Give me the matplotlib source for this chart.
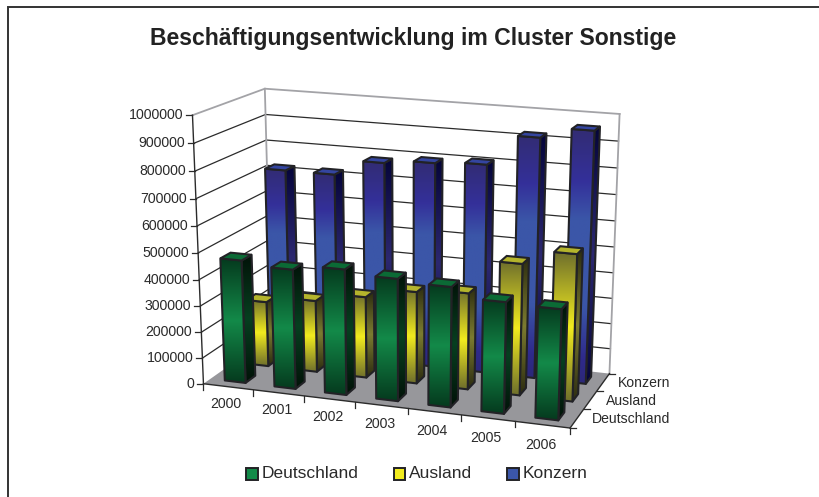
import matplotlib
matplotlib.use("Agg")
import matplotlib.pyplot as plt
from matplotlib.colors import LinearSegmentedColormap
from matplotlib.patches import Polygon, Rectangle
import numpy as np

plt.rcParams["font.family"] = ["Liberation Sans", "DejaVu Sans"]

years = ["2000", "2001", "2002", "2003", "2004", "2005", "2006"]
series = ["Deutschland", "Ausland", "Konzern"]
deutschland = [470000, 455000, 475000, 460000, 450000, 415000, 410000]
ausland = [255000, 280000, 315000, 355000, 370000, 500000, 555000]
konzern = [720000, 720000, 780000, 795000, 805000, 920000, 960000]
value_ticks = [0, 100000, 200000, 300000, 400000, 500000, 600000, 700000, 800000, 900000, 1000000]

front_colors = [
    ["#053a1e", "#138a49", "#053a1e"],
    ["#6f6f2c", "#f2ec1e", "#6f6f2c"],
    [(0, "#322c74"), (0.2, "#34309a"), (0.35, "#3b56a8"), (0.7, "#3b56a8"), (0.9, "#2f2a8c"), (1, "#2c2878")],
]
side_colors = [
    ["#021208", "#073f20", "#021208"],
    ["#2c2c10", "#7c7c30", "#2c2c10"],
    ["#05053a", "#2c2870", "#05053a"],
]
top_colors = ["#0b6a35", "#b4b42c", "#3445a0"]
legend_colors = ["#138a49", "#f2ec1e", "#3b56a8"]

# corners of the 3d box in picture pixels, (category, depth, value) -> (px, py)
box_world = np.array([
    [0, 0, 0], [7, 0, 0], [0, 3, 0], [7, 3, 0],
    [0, 0, 1], [7, 0, 1], [0, 3, 1], [7, 3, 1],
], dtype=float)
box_pixels = np.array([
    [202.5, 380], [570.7, 429.3], [272, 340], [609.3, 371.7],
    [192, 113], [580, 150], [265.7, 90], [618.3, 110],
])


def fit_camera(world, pix):
    rows, rhs = [], []
    for (x, y, z), (u, v) in zip(world, pix):
        rows.append([x, y, z, 1, 0, 0, 0, 0, -u * x, -u * y, -u * z])
        rhs.append(u)
        rows.append([0, 0, 0, 0, x, y, z, 1, -v * x, -v * y, -v * z])
        rhs.append(v)
    sol = np.linalg.lstsq(np.array(rows), np.array(rhs), rcond=None)[0]
    return np.append(sol, 1.0).reshape(3, 4)


camera = fit_camera(box_world, box_pixels)


def proj(x, d, val):
    p = camera @ np.array([x, d, val / 1e6, 1.0])
    return p[0] / p[2], p[1] / p[2]


def gradient_face(ax, pts, colors, z):
    pts = np.array(pts)
    cmap = LinearSegmentedColormap.from_list("face", colors)
    patch = Polygon(pts, closed=True, fc="none", ec="none", transform=ax.transData)
    ax.add_patch(patch)
    grad = np.linspace(0, 1, 128).reshape(-1, 1)
    im = ax.imshow(grad, cmap=cmap, aspect="auto", interpolation="bilinear",
                   extent=[pts[:, 0].min(), pts[:, 0].max(), pts[:, 1].max(), pts[:, 1].min()],
                   zorder=z)
    im.set_clip_path(patch)
    ax.add_patch(Polygon(pts, closed=True, fc="none", ec="#222226", lw=1.5, joinstyle="round",
                         zorder=z + 0.01))


def draw_bar(ax, i, depth, val, z):
    x0, x1 = i + 0.29, i + 0.71
    d0, d1 = depth + 0.29, depth + 0.71
    gradient_face(ax, [proj(x1, d0, 0), proj(x1, d1, 0), proj(x1, d1, val), proj(x1, d0, val)],
                  side_colors[depth], z)
    gradient_face(ax, [proj(x0, d0, 0), proj(x1, d0, 0), proj(x1, d0, val), proj(x0, d0, val)],
                  front_colors[depth], z + 0.1)
    ax.add_patch(Polygon([proj(x0, d0, val), proj(x1, d0, val), proj(x1, d1, val), proj(x0, d1, val)],
                         closed=True, fc=top_colors[depth], ec="#222226", lw=1.5, zorder=z + 0.2))


fig = plt.figure(figsize=(8.19, 4.97), dpi=100)
ax = fig.add_axes([0, 0, 1, 1])

# page frame, only top and left are there
ax.plot([7.7, 7.7, 819], [497, 6.7, 6.7], color="#333333", lw=1.4, solid_joinstyle="miter")

# floor
ax.add_patch(Polygon([proj(0, 0, 0), proj(7, 0, 0), proj(7, 3, 0), proj(0, 3, 0)],
                     closed=True, fc="#97979b", ec="none", zorder=0.5))

# gridlines on the walls
for val in value_ticks:
    if val == 0:
        continue
    xs, ys = zip(proj(0, 0, val), proj(0, 3, val), proj(7, 3, val))
    color = "#a3a3a7" if val == 1000000 else "#2b2b2b"
    ax.plot(xs, ys, color=color, lw=1.3 if val == 1000000 else 0.9, solid_joinstyle="miter", zorder=0.6)
for x in [0, 7]:
    xs, ys = zip(proj(x, 3, 0), proj(x, 3, 1000000))
    ax.plot(xs, ys, color="#a3a3a7", lw=1.3, zorder=0.7)

# axes lines and ticks
xs, ys = zip(proj(0, 0, 0), proj(0, 0, 1000000))
ax.plot(xs, ys, color="#2b2b2b", lw=1.0, zorder=0.8)
for val in value_ticks:
    px, py = proj(0, 0, val)
    ax.plot([px - 6, px], [py, py], color="#2b2b2b", lw=0.9, zorder=0.8)
    ax.text(px - 9, py, f"{val}", ha="right", va="center", fontsize=10.2, color="#2a2a2a")

xs, ys = zip(proj(0, 0, 0), proj(7, 0, 0))
ax.plot(xs, ys, color="#2b2b2b", lw=1.0, zorder=0.8)
xs, ys = zip(proj(7, 0, 0), proj(7, 3, 0))
ax.plot(xs, ys, color="#2b2b2b", lw=1.0, zorder=0.8)
for i in range(8):
    px, py = proj(i, 0, 0)
    ax.plot([px, px], [py, py + 6], color="#2b2b2b", lw=0.9, zorder=0.8)
for i, year in enumerate(years):
    px, py = proj(i + 0.5, 0, 0)
    ax.text(px - 2, py + 17 + 0.5 * i, year, ha="center", va="center", fontsize=10.2, color="#2a2a2a")
for d in range(4):
    px, py = proj(7, d, 0)
    ax.plot([px, px + 6], [py, py], color="#2b2b2b", lw=0.9, zorder=0.8)
for d, name in enumerate(series):
    px, py = proj(7, d + 0.5, 0)
    ax.text(px + 15, py + 1, name, ha="left", va="center", fontsize=10.1, color="#2a2a2a")

# bars, back row first
all_values = [deutschland, ausland, konzern]
z = 1
for depth in [2, 1, 0]:
    for i in range(len(years)):
        draw_bar(ax, i, depth, all_values[depth][i], z)
        z += 1

ax.set_xlim(0, 819)
ax.set_ylim(497, 0)
ax.axis("off")

ax.text(413.5, 38, "Beschäftigungsentwicklung im Cluster Sonstige", ha="center", va="center",
        fontsize=16.6, fontweight="bold", color="#222222", zorder=50)

# legend
legend_x = [246, 393.5, 507]
for name, color, lx in zip(series, legend_colors, legend_x):
    ax.add_patch(Rectangle((lx, 468.2), 11.5, 11.5, fc=color, ec="#222226", lw=1.4, zorder=50))
    ax.text(lx + 15.5, 474, name, ha="left", va="center", fontsize=12.5, color="#2a2a2a", zorder=50)

fig.savefig("out.png", dpi=100)
